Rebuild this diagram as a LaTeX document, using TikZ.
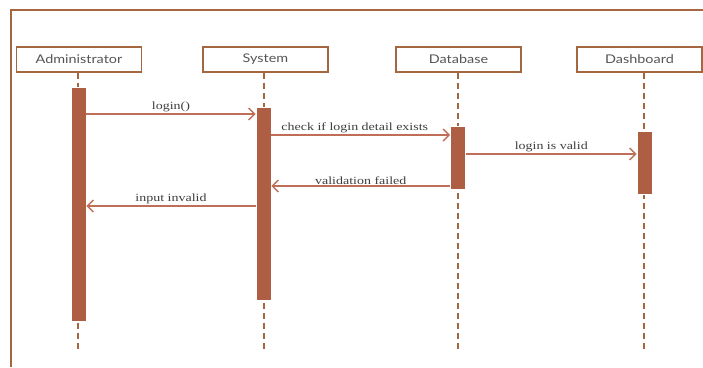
\documentclass[tikz,border=0pt]{standalone}
\usepackage{fontspec}
\setmainfont{Liberation Serif}
\newfontfamily\boxfont{Lato}
\usetikzlibrary{arrows.meta}
\definecolor{framec}{HTML}{A5673F}
\definecolor{barc}{HTML}{AE5E42}
\definecolor{msgc}{HTML}{C06E58}
\definecolor{lblc}{HTML}{3E3E3E}
\definecolor{boxtxt}{HTML}{555555}
\newcommand{\widebox}[1]{\scalebox{1.2}[1]{#1}}
\newcommand{\widelbl}[1]{\scalebox{1.27}[1]{#1}}
\tikzset{
  actor/.style={draw=framec, line width=1.3pt, fill=white, minimum width=125pt, minimum height=25pt, inner sep=0pt, font=\boxfont\fontsize{12}{14}\selectfont, text=boxtxt},
  lifeline/.style={draw=framec, line width=1.6pt, dash pattern=on 6pt off 4pt},
  actbar/.style={draw=white, line width=0.6pt, fill=barc, minimum width=15pt, inner sep=0pt, anchor=north},
  msg/.style={draw=msgc, line width=1.4pt, -{Straight Barb[length=6pt,width=12pt,line width=1.4pt]}},
  lbl/.style={font=\fontsize{11}{13}\selectfont, text=lblc, inner sep=1pt}
}
\begin{document}
\begin{tikzpicture}[x=1pt,y=-1pt]
\useasboundingbox (0,0) rectangle (703,367);
\fill[white] (0,0) rectangle (703,367);
% frame
\coordinate (fl) at (11,367);
\coordinate (fc) at (11,10);
\coordinate (fr) at (703,10);
\draw[framec, line width=1.5pt] (fl) -- (fc) -- (fr);
% actors
\node[actor] (adm) at (79,59.5) {\widebox{Administrator}};
\node[actor] (sys) at (265.5,59.5) {\widebox{System}};
\node[actor] (db) at (458.5,59.5) {\widebox{Database}};
\node[actor] (dash) at (639.5,59.5) {\widebox{Dashboard}};
% lifeline ends
\coordinate (admE) at (78,352);
\coordinate (sysE) at (264,352);
\coordinate (dbE) at (458,352);
\coordinate (dashE) at (644,352);
\draw[lifeline] (adm.south -| admE) -- (admE);
\draw[lifeline] (sys.south -| sysE) -- (sysE);
\draw[lifeline] (db.south -| dbE) -- (dbE);
\draw[lifeline] (dash.south -| dashE) -- (dashE);
% activation bars
\node[actbar, minimum height=234pt] (a1) at (78.5,87) {};
\node[actbar, minimum height=193pt] (s1) at (263.5,107) {};
\node[actbar, minimum height=63pt] (d1) at (458,126) {};
\node[actbar, minimum height=63pt] (h1) at (644.5,131) {};
% messages
\draw[msg] (a1.east |- 0,114) -- node[lbl, above] {\widelbl{login()}} (s1.west |- 0,114);
\draw[msg] (s1.east |- 0,135) -- node[lbl, above, xshift=-6pt] {\widelbl{check if login detail exists}} (d1.west |- 0,135);
\draw[msg] (d1.east |- 0,154) -- node[lbl, above] {\widelbl{login is valid}} (h1.west |- 0,154);
\draw[msg] (d1.west |- 0,186) -- node[lbl, above] {\widelbl{validation failed}} (s1.east |- 0,186);
\draw[msg] (s1.west |- 0,206) -- node[lbl, above] {\widelbl{input invalid}} (a1.east |- 0,206);
\end{tikzpicture}
\end{document}
